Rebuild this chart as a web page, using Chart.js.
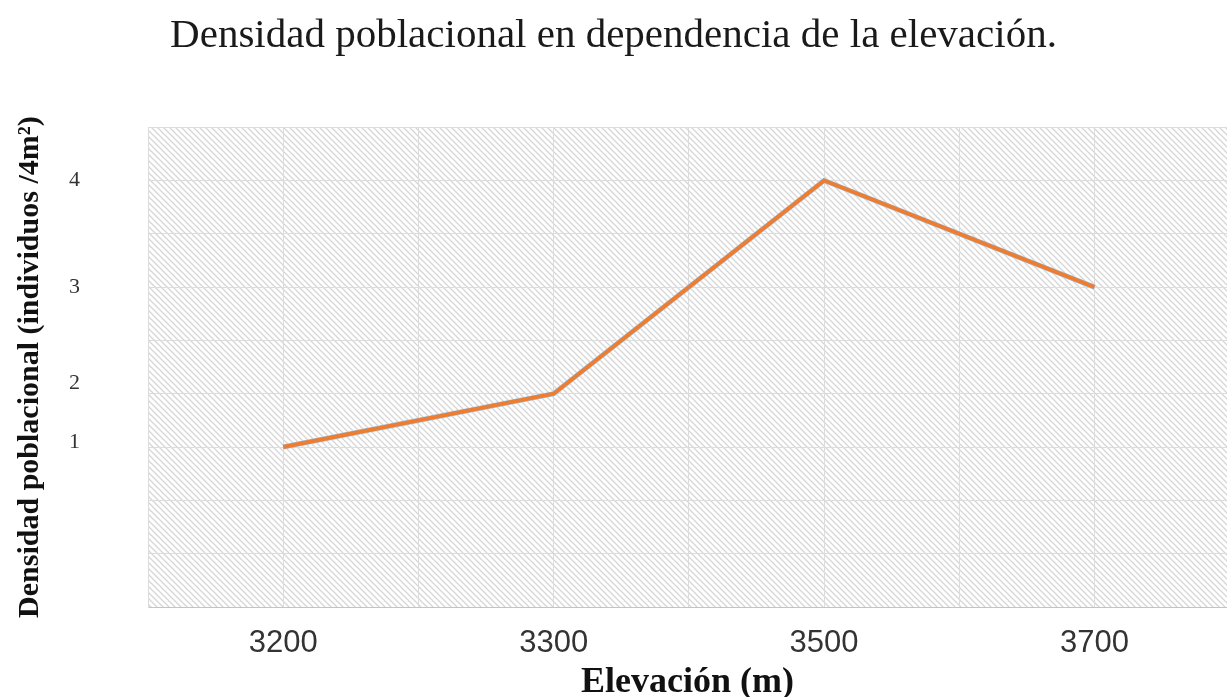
<!DOCTYPE html>
<html>
<head>
<meta charset="utf-8">
<script src="https://cdn.jsdelivr.net/npm/chart.js@4"></script>
<style>
  body { margin: 0; background: #fff; }
  #wrap { width: 1227px; height: 697px; }
</style>
</head>
<body>
<div id="wrap"><canvas id="densidadChart"></canvas></div>
<script>
// datos
const elevaciones = ['3200', '3300', '3500', '3700'];
const densidad = [1.5, 2, 4, 3];
const densidadAzul = [1.5, 2, 4, 3];
const yTickValores = [1.55, 2.1, 3, 4];
const yTickEtiquetas = ['1', '2', '3', '4'];

// fondo rayado del area del grafico
function crearRayado() {
    const s = 6;
    const c = document.createElement('canvas');
    c.width = s; c.height = s;
    const g = c.getContext('2d');
    g.fillStyle = '#ffffff';
    g.fillRect(0, 0, s, s);
    g.strokeStyle = '#d6d6d6';
    g.lineWidth = 1.3;
    g.beginPath();
    g.moveTo(0, 0); g.lineTo(s, s);
    g.moveTo(-1, s - 1); g.lineTo(1, s + 1);
    g.moveTo(s - 1, -1); g.lineTo(s + 1, 1);
    g.stroke();
    return c;
}

const fondoRayado = {
    id: 'fondoRayado',
    beforeDraw(chart) {
        const {ctx, chartArea} = chart;
        ctx.save();
        ctx.fillStyle = ctx.createPattern(crearRayado(), 'repeat');
        ctx.fillRect(chartArea.left, chartArea.top, chartArea.right - chartArea.left, chartArea.bottom - chartArea.top);
        ctx.restore();
    }
};

const puntos = arr => arr.map((v, i) => ({x: i, y: v}));

const ctx = document.getElementById('densidadChart').getContext('2d');

const chart = new Chart(ctx, {
    type: 'line',
    data: {
        datasets: [
            {label: 'Densidad', data: puntos(densidad), borderColor: '#ED7D31', borderWidth: 4, pointRadius: 0, tension: 0},
            {label: 'Densidad (2)', data: puntos(densidadAzul), borderColor: '#9DC3E6', borderWidth: 5, pointRadius: 0, tension: 0}
        ]
    },
    plugins: [fondoRayado],
    options: {
        responsive: true,
        maintainAspectRatio: false,
        animation: false,
        layout: {padding: 0},
        plugins: {
            legend: {display: false},
            tooltip: {enabled: false},
            title: {
                display: true,
                text: 'Densidad poblacional en dependencia de la elevación.',
                color: '#1a1a1a',
                font: {family: 'Liberation Serif', size: 41, weight: 'normal', lineHeight: 1.2},
                padding: {top: 12, bottom: 66}
            }
        },
        scales: {
            x: {
                type: 'linear',
                min: -0.5,
                max: 3.49,
                grid: {color: '#dcdcdc', lineWidth: 1, drawTicks: false},
                border: {color: '#c4c4c4'},
                afterFit: axis => { axis.height = 90; axis.paddingLeft = 0; axis.paddingRight = 0; },
                ticks: {
                    stepSize: 0.5,
                    autoSkip: false,
                    maxRotation: 0,
                    padding: 18,
                    color: '#333333',
                    font: {family: 'Liberation Sans', size: 31},
                    callback: v => Number.isInteger(v) ? elevaciones[v] : ''
                },
                title: {
                    display: true,
                    text: 'Elevación (m)',
                    color: '#111111',
                    font: {family: 'Liberation Serif', size: 36, weight: 'bold', lineHeight: 0.78},
                    padding: {top: 8, bottom: 0}
                }
            },
            y: {
                min: 0,
                max: 4.5,
                weight: 0,
                grid: {color: '#dcdcdc', lineWidth: 1, drawTicks: false},
                border: {color: '#dcdcdc'},
                afterFit: axis => { axis.width = 0; axis.paddingTop = 0; axis.paddingBottom = 0; },
                ticks: {display: false, stepSize: 0.5}
            },
            yEtiquetas: {
                position: 'left',
                min: 0,
                max: 4.5,
                weight: 1,
                grid: {display: false, drawTicks: false},
                border: {display: false},
                afterBuildTicks: axis => { axis.ticks = yTickValores.map(v => ({value: v})); },
                afterFit: axis => { axis.width = 148; axis.paddingTop = 0; axis.paddingBottom = 0; },
                ticks: {
                    padding: 68,
                    color: '#333333',
                    font: {family: 'Liberation Serif', size: 22},
                    callback: (v, i) => yTickEtiquetas[i]
                },
                title: {
                    display: true,
                    text: 'Densidad poblacional (individuos /4m²)',
                    color: '#111111',
                    font: {family: 'Liberation Serif', size: 30, weight: 'bold', lineHeight: 1.2},
                    padding: {top: 12, bottom: 21}
                }
            }
        }
    }
});
</script>
</body>
</html>
